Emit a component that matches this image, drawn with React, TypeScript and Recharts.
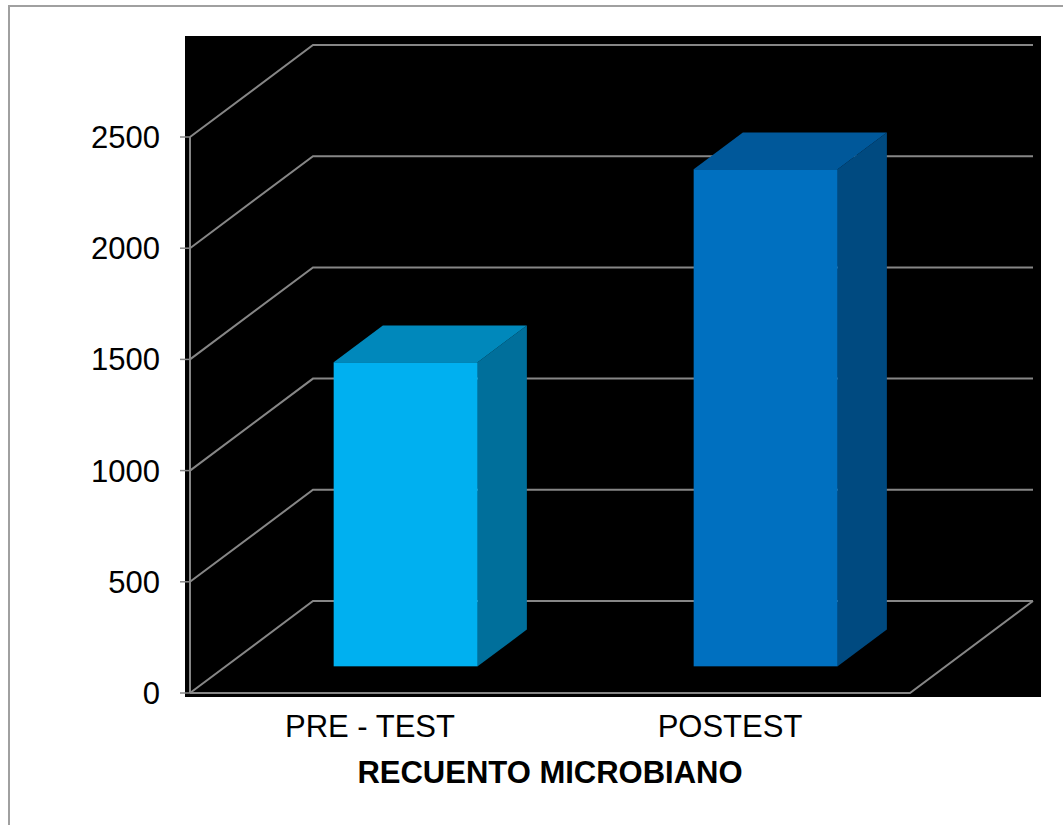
import React from "react";
import {
  BarChart,
  Bar,
  XAxis,
  YAxis,
  CartesianGrid,
  ReferenceLine,
} from "recharts";

const categories = ["PRE - TEST", "POSTEST"];
const counts = [1367, 2235];
const yTicks = [0, 500, 1000, 1500, 2000, 2500];

const data = categories.map((cat, i) => ({ cat, value: counts[i] }));

// 3d look: how far the back wall sits from the front plane
const DEPTH_X = 123;
const DEPTH_Y = 92;
const BAR_FRONT = 0.29; // where the bar front face sits inside the depth
const BAR_DEPTH = 0.4;

const GRID = "#868686";
const FONT = "'Liberation Sans', Arial, sans-serif";

const barColors = [
  { front: "#00B0F0", top: "#0088BB", side: "#006F9B" },
  { front: "#0070C0", top: "#00589A", side: "#004A80" },
];

function Bar3D(props: any) {
  const { x, y, width, height, index } = props;
  const c = barColors[index % barColors.length];
  const fx = x + DEPTH_X * BAR_FRONT;
  const fy = y - DEPTH_Y * BAR_FRONT;
  const dx = DEPTH_X * BAR_DEPTH;
  const dy = DEPTH_Y * BAR_DEPTH;
  return (
    <g>
      <polygon
        points={`${fx + width},${fy} ${fx + width + dx},${fy - dy} ${fx + width + dx},${fy + height - dy} ${fx + width},${fy + height}`}
        fill={c.side}
      />
      <polygon
        points={`${fx},${fy} ${fx + dx},${fy - dy} ${fx + width + dx},${fy - dy} ${fx + width},${fy}`}
        fill={c.top}
      />
      <rect x={fx} y={fy} width={width} height={height} fill={c.front} />
    </g>
  );
}

// each gridline runs up the left wall, then along the back wall
const gridLine = (p: any) => {
  const { x1, y1, x2 } = p;
  return (
    <polyline
      key={p.key}
      points={`${x1},${y1} ${x1 + DEPTH_X},${y1 - DEPTH_Y} ${x2 + DEPTH_X},${y1 - DEPTH_Y}`}
      fill="none"
      stroke={GRID}
      strokeWidth={2}
    />
  );
};

// front edge and right side of the floor
const floorEdge = (p: any) => {
  const { x1, y1, x2, y2 } = p;
  return (
    <polyline
      points={`${x1},${y1} ${x2},${y2} ${x2 + DEPTH_X},${y2 - DEPTH_Y}`}
      fill="none"
      stroke={GRID}
      strokeWidth={2}
    />
  );
};

export default function App() {
  return (
    <div
      style={{
        position: "absolute",
        left: 0,
        top: 0,
        width: 1063,
        height: 825,
        overflow: "hidden",
        background: "#fff",
      }}
    >
      <div
        style={{
          position: "absolute",
          left: 8,
          top: 5,
          width: 1055,
          height: 820,
          borderLeft: "2px solid #a0a0a0",
          borderTop: "2px solid #a0a0a0",
        }}
      />
      <div
        style={{
          position: "absolute",
          left: 185,
          top: 36,
          width: 856,
          height: 661,
          background: "#000",
        }}
      />
      <div style={{ position: "absolute", left: 0, top: 0 }}>
        <BarChart
          width={1063}
          height={825}
          data={data}
          margin={{ top: 137, right: 153, left: 0, bottom: 0 }}
          barCategoryGap="30%"
        >
          <CartesianGrid vertical={false} horizontal={gridLine} />
          <XAxis
            dataKey="cat"
            height={132}
            axisLine={false}
            tickLine={false}
            tickSize={0}
            tickMargin={22}
            tick={{ fill: "#000", fontSize: 31, fontFamily: FONT }}
            label={{
              value: "RECUENTO MICROBIANO",
              position: "insideBottom",
              offset: 42,
              fill: "#000",
              fontSize: 31,
              fontWeight: 700,
              fontFamily: FONT,
            }}
          />
          <YAxis
            width={190}
            domain={[0, 2500]}
            ticks={yTicks}
            interval={0}
            axisLine={{ stroke: GRID, strokeWidth: 2 }}
            tickLine={{ stroke: GRID, strokeWidth: 1.5 }}
            tickSize={10}
            tickMargin={20}
            tick={{ fill: "#000", fontSize: 31, fontFamily: FONT }}
          />
          <ReferenceLine y={0} shape={floorEdge} />
          <Bar
            dataKey="value"
            shape={Bar3D}
            isAnimationActive={false}
          />
        </BarChart>
      </div>
    </div>
  );
}
